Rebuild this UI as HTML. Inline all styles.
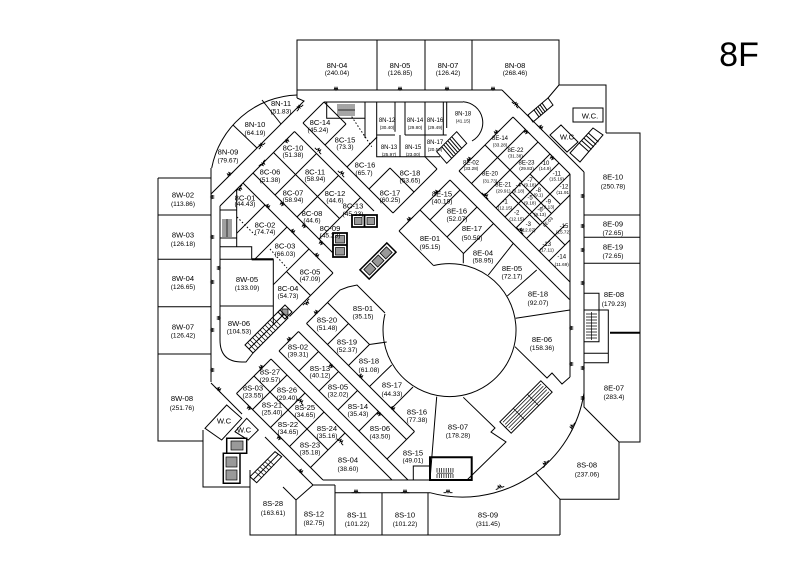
<!DOCTYPE html>
<html>
<head>
<meta charset="utf-8">
<style>
html,body{margin:0;padding:0;background:#fff;}
svg{display:block;}
text{font-family:"Liberation Sans",Arial,sans-serif;fill:#000;text-anchor:middle;}
.n{font-size:7.6px;}
.a{font-size:6.6px;}
.s{font-size:6px;}
.t{font-size:4.6px;}
</style>
</head>
<body>
<svg width="800" height="561" viewBox="0 0 800 561" xmlns="http://www.w3.org/2000/svg">
<defs>
<path id="d" d="M-4.5,0 L-2,0 L-1,-2.6 L0,0 L1,-2.6 L2,0 L4.5,0" fill="none" stroke="#000" stroke-width="0.9"/>
</defs>
<rect width="800" height="561" fill="#fff"/>
<text x="739" y="66" style="font-size:34px">8F</text>

<g fill="none" stroke="#000" stroke-width="1">
<!-- top boxes -->
<path d="M297,98 V40 H559 V85 M297,90 H502 M377,40 V90 M425,40 V90 M472,40 V90 M559,85 L548,98 M559,85 H606 V133"/>
<path d="M528,115 L548,98 L553,105 L533,122 Z M534,109.9 L539,116.9 M536,108.2 L541,115.2 M538,106.5 L543,113.5 M540,104.8 L545,111.8 M542,103.1 L547,110.1"/>
<path d="M573,108 H603 V122 H573 Z"/>
<!-- NE diag -->
<path d="M502,90 L577,165 L584,172 M513,117 L570,174"/>
<path d="M550,135 L561,125 L578,142 L567,152 Z"/>
<path d="M570,153 L593,128 L603,135 L580,162 Z M579.2,143 L589.2,152 M581.5,140.5 L591.5,149.5 M583.8,138 L593.8,147 M586.1,135.5 L596.1,144.5 M588.4,133 L598.4,142"/>
<!-- right boxes -->
<path d="M606,133 H640 V442 H619 V499.3 H560 V535 M584,172 V407 L619,442 M584,215 H640 M584,237.3 H640 M584,263.3 H640"/>
<path d="M610,332.7 H640" stroke-width="2"/>
<path d="M584,293.3 H599 V310 M584,310 H608.3 V362.7 H584 M584,353.3 H608.3 M599,310 V341.7 H584"/>
<path d="M591.5,312 V340 M586,314 H597 M586,317 H597 M586,320 H597 M586,323 H597 M586,326 H597 M586,329 H597 M586,332 H597 M586,335 H597 M586,338 H597" stroke-width="0.7"/>
<path d="M536,473 L560,499.3"/>
<path d="M430,492.7 A123,123 0 0 0 584,393"/>
<!-- bottom -->
<path d="M250,470 V535 H560 M335,492.7 H430 M296,500 V535 M335,485 V535 M382,492.7 V535 M428,492.7 V535 M313,485 H335 M313,485 L296,500 L283,487"/>
<!-- left -->
<path d="M211,168 V382 M158,178 V441 H203 M158,178 H211 M158,215 H211 M158,259.3 H211 M158,306.7 H211 M158,354 H211"/>
<path d="M211.7,168 A90,90 0 0 1 297,95"/>
<path d="M233,125 L257,148 M262,100 L281,124"/>
<path d="M211,194 L304,101 L297,98 M220,206 L294.5,131.5 M303,123 L324,102"/>
<path d="M220,206 V340 Q220,362 242,362 H246 L253,353"/>
<path d="M220,210 H236.7 M220,238 H236.7 M236.7,189.3 V246.7 H251.7 V259.3 M220,246.7 H236.7"/>
<path d="M222,220 H232 M222,222 H232 M222,224 H232 M222,226 H232 M222,228 H232 M222,230 H232 M222,232 H232 M222,234 H232 M222,236 H232 M227,219 V237" stroke-width="0.7"/>
<path d="M220,259.3 H273.3 V325 M220,306 H273.3"/>
<path d="M251.7,259.3 H273.3" stroke-width="2.2"/>
<!-- 8C grid -->
<path d="M243,183 L333,273 M253,173 L332.5,252.5 M273.5,152.5 L339.5,218.5 M294.5,131.5 L374,211 M303,123 L393,213 M324,102 L346,124 M390,168 L414,192 M425,156.7 L437,169"/>
<path d="M236.7,233.3 L265,205 M275,195 L316.5,153.5 M325,145 L346,124 M254.7,259.3 L287,227 M297,217 L338.5,175.5 M347,167 L377,137 M273.3,284.7 L309,249 M319,239 L360.5,197.5 M369,189 L390,168 M289.5,316.5 L333,273 M393,213 L437,169 M286.5,271.5 L310.5,295.5"/>
<path d="M237,217 L255,235 M270,249 L287,268 M351.7,116.7 L371.7,146.7" stroke-dasharray="1.5,2"/>
<path d="M285,305 L292,312 L285,319 L278,312 Z"/>
<rect x="282" y="309" width="6" height="6" fill="#999" stroke-width="0.7"/>
<!-- stair near 8W-06 -->
<path d="M245,345 L280,310 L288,318 L253,353 Z M249,349 L284,314"/>
<path d="M247.5,342.5 L255.5,350.5 M250,340 L258,348 M252.5,337.5 L260.5,345.5 M255,335 L263,343 M257.5,332.5 L265.5,340.5 M260,330 L268,338 M262.5,327.5 L270.5,335.5 M265,325 L273,333 M267.5,322.5 L275.5,330.5 M270,320 L278,328 M272.5,317.5 L280.5,325.5" stroke-width="0.7"/>
<!-- 8N inner block -->
<path d="M324,102 H463 M326.7,101.7 V118.3 H365 V101.7 M365,118.3 V138 M376.7,101.7 V156.7 H440 M395,101.7 V131.7 M405,101.7 V135 M425,101.7 V156.7 M443.3,101.7 V135 M446.7,101.7 V128 M376.7,135 H395 M405,135 H446.7 M400,135 V156.7"/>
<path d="M338,104 V116 M340,104 V116 M342,104 V116 M344,104 V116 M346,104 V116 M348,104 V116 M350,104 V116 M352,104 V116 M354,104 V116 M338,110 H355" stroke-width="0.7"/>
<path d="M463,101.7 A21,21 0 0 1 472,141"/>
<path d="M436.7,151.7 L456.7,131.7 L466.7,143.3 L446.7,163.3 Z M441.7,146.7 L451.7,158.3 M443.7,144.7 L453.7,156.3 M445.7,142.7 L455.7,154.3 M447.7,140.7 L457.7,152.3 M449.7,138.7 L459.7,150.3 M451.7,136.7 L461.7,148.3"/>
<!-- NE-main lower edge -->
<path d="M236.5,393.5 L271,359 M279,351 L298.5,331.5 M306.5,323.5 L327.5,302.5 L340,290 L348,287 L357,285 L385,313 M399,231 L420,210 L450,180 M459,171 L513,117 M399,231 L433.3,265.3"/>
<path d="M433.3,265.6 A66.5,66.5 0 1 1 385,314"/>
<!-- 8E column -->
<path d="M420,210 L463.3,253.3 V263.3 M430,220 L460,190 M447,237 L477,207 M463.5,253.5 L493.5,223.5 M488.3,275 L513.3,243.3 M507.3,296 L536.7,270 M450,180 L569.5,299.5 M515.7,318.3 L570,310 M570,174 V377 M515,346.7 L547,378 L552,373 L562,384 L570,377"/>
<!-- 8E cluster -->
<path d="M459,171 L570,282 M485,145 L522,182 M471.5,183.5 L525.5,129.5 M484,196 L538,142 M496,208 L550,154 M505,217 L559,163 M516,228 L570,174 M526.5,238.5 L570,195 M509.5,194.5 L540,225 M512,192 L542.5,222.5 M521,183 L551.5,213.5 M530,174 L560.5,204.5 M539,251 L565,225 M549,261 L570,240 M542.5,222.5 L565,245"/>
<!-- 8S cluster -->
<path d="M327.5,302.5 L369.5,344.5 L386.7,342 M306.5,323.5 L414.5,431.5 M298.5,331.5 L406.5,439.5 M279,351 L408,480 M271,359 L392,480 M254,376 L328,450 M236.5,393.5 L323,480"/>
<path d="M327.5,344.5 L348.5,323.5 M348.5,365.5 L369.5,344.5 M369.5,386.5 L391.7,365 M391.5,408.5 L413,387 M299,371 L318.5,351.5 M319,391 L338.5,371.5 M338,410 L357.5,390.5 M359,431 L378.5,411.5 M387,459 L414.5,431.5 M252.5,409.5 L287,375 M270.5,427.5 L305,393 M289.5,446.5 L324,412 M310.5,467.5 L345,433 M323,480 H467"/>
<path d="M436.7,396.7 L430,480 M463.3,397.3 L495,428 L491,432 L506,442 L467,480"/>
<path d="M430,457.3 H471.7 V480 H430 Z" stroke-width="2"/>
<path d="M413.3,466 H430 V480 H413.3 Z"/>
<path d="M437,468 V472.5 M439.3,468 V472.5 M441.6,468 V472.5 M443.9,468 V472.5 M446.2,468 V472.5 M448.5,468 V472.5 M450.8,468 V472.5 M453,468 V472.5 M437,474 V478 M439.3,474 V478 M441.6,474 V478 M443.9,474 V478 M446.2,474 V478 M448.5,474 V478 M450.8,474 V478 M453,474 V478 M437,473.2 H453" stroke-width="0.7"/>
<!-- SW -->
<path d="M211,383 L242,414 M265,437 L313,485 M203,430 V487 H250"/>
<path d="M226.7,405 L241.7,418.3 L221.7,440 L205,428.3 Z M235,431.7 L246.7,418.3 L258.3,430 L248.3,440 Z"/>
<path d="M226.7,438.3 H246.7 V453.3 H226.7 Z M223.3,453.3 H240 V483.3 H223.3 Z" stroke-width="1.5"/>
<rect x="231" y="441" width="12" height="9" fill="#999" stroke-width="0.7"/>
<rect x="226" y="457" width="11" height="10" fill="#999" stroke-width="0.7"/>
<rect x="226" y="470" width="11" height="10" fill="#999" stroke-width="0.7"/>
<path d="M250,476.7 L275,451.7 L281.7,456.7 L256.7,482.7 Z M253.4,479.7 L278.4,454.2"/>
<path d="M255,471.7 L261.7,477.7 M257.5,469.2 L264.2,475.2 M260,466.7 L266.7,472.7 M262.5,464.2 L269.2,470.2 M265,461.7 L271.7,467.7 M267.5,459.2 L274.2,465.2" stroke-width="0.7"/>
<!-- plaza elevators -->
<path d="M352,215 H377 V227 H352 Z M364.5,215 V227 M333,233 H347 V257 H333 Z M333,245 H347" stroke-width="1.8"/>
<rect x="354.5" y="217.5" width="7.5" height="7" fill="#999" stroke-width="0.7"/>
<rect x="367" y="217.5" width="7.5" height="7" fill="#999" stroke-width="0.7"/>
<rect x="335.5" y="235.5" width="9" height="7.5" fill="#999" stroke-width="0.7"/>
<rect x="335.5" y="247.5" width="9" height="7.5" fill="#999" stroke-width="0.7"/>
<g transform="translate(378,261) rotate(-45)">
<rect x="-19" y="-6.5" width="38" height="13" stroke-width="1.5"/>
<rect x="-16" y="-4" width="9" height="8" fill="#999" stroke-width="0.8"/>
<rect x="-4.5" y="-4" width="9" height="8" fill="#999" stroke-width="0.8"/>
<rect x="7" y="-4" width="9" height="8" fill="#999" stroke-width="0.8"/>
</g>
<g transform="translate(526,407) rotate(-45)">
<rect x="-29" y="-8" width="58" height="16"/>
<path d="M-29,0 H29 M-27,-5.5 H27 M-27,-2.5 H27 M-27,2.5 H27 M-27,5.5 H27 M-10,-8 V8 M10,-8 V8" stroke-width="0.7"/>
</g>
</g>

<!-- door symbols -->
<g>
<use href="#d" transform="translate(336,90)"/>
<use href="#d" transform="translate(400,90)"/>
<use href="#d" transform="translate(447,90)"/>
<use href="#d" transform="translate(493,90)"/>
<use href="#d" transform="translate(211,197) rotate(90)"/>
<use href="#d" transform="translate(211,237) rotate(90)"/>
<use href="#d" transform="translate(211,282) rotate(90)"/>
<use href="#d" transform="translate(211,330) rotate(90)"/>
<use href="#d" transform="translate(211,370) rotate(90)"/>
<use href="#d" transform="translate(220,268) rotate(-90)"/>
<use href="#d" transform="translate(220,318) rotate(-90)"/>
<use href="#d" transform="translate(584,196) rotate(-90)"/>
<use href="#d" transform="translate(584,226) rotate(-90)"/>
<use href="#d" transform="translate(584,250) rotate(-90)"/>
<use href="#d" transform="translate(584,283) rotate(-90)"/>
<use href="#d" transform="translate(584,368) rotate(-90)"/>
<use href="#d" transform="translate(584,398) rotate(-90)"/>
<use href="#d" transform="translate(570,328) rotate(90)"/>
<use href="#d" transform="translate(570,364) rotate(90)"/>
<use href="#d" transform="translate(300,108) rotate(-45)"/>
<use href="#d" transform="translate(262,146) rotate(-45)"/>
<use href="#d" transform="translate(230,175) rotate(-45)"/>
<use href="#d" transform="translate(286,140) rotate(135)"/>
<use href="#d" transform="translate(262,163) rotate(135)"/>
<use href="#d" transform="translate(239,188) rotate(135)"/>
<use href="#d" transform="translate(267,207) rotate(45)"/>
<use href="#d" transform="translate(292,232) rotate(45)"/>
<use href="#d" transform="translate(316,256) rotate(45)"/>
<use href="#d" transform="translate(283,203) rotate(225)"/>
<use href="#d" transform="translate(305,225) rotate(225)"/>
<use href="#d" transform="translate(322,242) rotate(225)"/>
<use href="#d" transform="translate(318,151) rotate(45)"/>
<use href="#d" transform="translate(341,174) rotate(45)"/>
<use href="#d" transform="translate(317,313) rotate(-45)"/>
<use href="#d" transform="translate(290,340) rotate(-45)"/>
<use href="#d" transform="translate(262,368) rotate(-45)"/>
<use href="#d" transform="translate(306,302) rotate(135)"/>
<use href="#d" transform="translate(410,220) rotate(-45)"/>
<use href="#d" transform="translate(437,193) rotate(-45)"/>
<use href="#d" transform="translate(470,160) rotate(-45)"/>
<use href="#d" transform="translate(497,133) rotate(-45)"/>
<use href="#d" transform="translate(515,105) rotate(45)"/>
<use href="#d" transform="translate(540,128) rotate(45)"/>
<use href="#d" transform="translate(527,131) rotate(225)"/>
<use href="#d" transform="translate(553,157) rotate(225)"/>
<use href="#d" transform="translate(485,196) rotate(45)"/>
<use href="#d" transform="translate(520,231) rotate(45)"/>
<use href="#d" transform="translate(218,390) rotate(45)"/>
<use href="#d" transform="translate(250,407) rotate(225)"/>
<use href="#d" transform="translate(280,437) rotate(225)"/>
<use href="#d" transform="translate(300,472) rotate(45)"/>
<use href="#d" transform="translate(360,377) rotate(45)"/>
<use href="#d" transform="translate(392,409) rotate(45)"/>
<use href="#d" transform="translate(332,365) rotate(225)"/>
<use href="#d" transform="translate(380,413) rotate(225)"/>
<use href="#d" transform="translate(300,402) rotate(45)"/>
<use href="#d" transform="translate(340,442) rotate(45)"/>
<use href="#d" transform="translate(356,492.7)"/>
<use href="#d" transform="translate(405,492.7)"/>
<use href="#d" transform="translate(448,492.7)"/>
<use href="#d" transform="translate(546,464) rotate(-55)"/>
<use href="#d" transform="translate(573,427) rotate(-70)"/>
<use href="#d" transform="translate(500,488) rotate(-20)"/>
</g>

<!-- labels -->
<g>
<text class="n" x="337" y="68">8N-04</text><text class="a" x="337" y="75">(240.04)</text>
<text class="n" x="400" y="68">8N-05</text><text class="a" x="400" y="75">(126.85)</text>
<text class="n" x="448" y="68">8N-07</text><text class="a" x="448" y="75">(126.42)</text>
<text class="n" x="515" y="68">8N-08</text><text class="a" x="515" y="75">(268.46)</text>
<text class="n" x="281" y="106">8N-11</text><text class="a" x="281" y="113.5">(51.83)</text>
<text class="n" x="255" y="127">8N-10</text><text class="a" x="255" y="134.8">(64.19)</text>
<text class="n" x="228" y="154.5">8N-09</text><text class="a" x="228" y="162.5">(79.67)</text>
<text class="s" x="387" y="122">8N-12</text><text class="t" x="387" y="129">(30.40)</text>
<text class="s" x="415" y="122">8N-14</text><text class="t" x="415" y="129">(29.80)</text>
<text class="s" x="435" y="122">8N-16</text><text class="t" x="435" y="129">(29.49)</text>
<text class="s" x="389" y="149">8N-13</text><text class="t" x="389" y="156">(25.97)</text>
<text class="s" x="413" y="149">8N-15</text><text class="t" x="413" y="156">(23.00)</text>
<text class="s" x="435" y="144">8N-17</text><text class="t" x="435" y="151">(20.50)</text>
<text class="s" x="463" y="115.5">8N-18</text><text class="t" x="463" y="122.5">(41.15)</text>

<text class="n" x="320" y="125">8C-14</text><text class="a" x="318" y="131.8">(45.24)</text>
<text class="n" x="345" y="142.7">8C-15</text><text class="a" x="345" y="149.2">(73.3)</text>
<text class="n" x="293" y="150.4">8C-10</text><text class="a" x="293" y="156.8">(51.38)</text>
<text class="n" x="365" y="167.7">8C-16</text><text class="a" x="364" y="174.8">(65.7)</text>
<text class="n" x="270" y="174.4">8C-06</text><text class="a" x="270" y="181.8">(51.38)</text>
<text class="n" x="315" y="174.4">8C-11</text><text class="a" x="315" y="180.8">(58.94)</text>
<text class="n" x="410" y="175.4">8C-18</text><text class="a" x="410" y="182.5">(53.65)</text>
<text class="n" x="390" y="195.4">8C-17</text><text class="a" x="390" y="201.8">(60.25)</text>
<text class="n" x="335" y="196">8C-12</text><text class="a" x="335" y="202.5">(44.6)</text>
<text class="n" x="293" y="195.4">8C-07</text><text class="a" x="293" y="201.8">(58.94)</text>
<text class="n" x="245" y="200.4">8C-01</text><text class="a" x="245" y="205.8">(44.43)</text>
<text class="n" x="353" y="208.7">8C-13</text><text class="a" x="353" y="215.8">(45.23)</text>
<text class="n" x="312" y="216">8C-08</text><text class="a" x="312" y="222.5">(44.6)</text>
<text class="n" x="265" y="227.7">8C-02</text><text class="a" x="265" y="234.2">(74.74)</text>
<text class="n" x="330" y="231">8C-09</text><text class="a" x="330" y="237.5">(45.23)</text>
<text class="n" x="285" y="248.7">8C-03</text><text class="a" x="285" y="255.8">(66.03)</text>
<text class="n" x="310" y="274.4">8C-05</text><text class="a" x="310" y="280.8">(47.09)</text>
<text class="n" x="288" y="291">8C-04</text><text class="a" x="288" y="298.2">(54.73)</text>

<text class="n" x="183" y="197.7">8W-02</text><text class="a" x="183" y="205.8">(113.86)</text>
<text class="n" x="183" y="237.7">8W-03</text><text class="a" x="183" y="245.8">(126.18)</text>
<text class="n" x="183" y="281">8W-04</text><text class="a" x="183" y="289.2">(126.65)</text>
<text class="n" x="183" y="329.4">8W-07</text><text class="a" x="183" y="337.5">(126.42)</text>
<text class="n" x="182" y="401">8W-08</text><text class="a" x="182" y="409.8">(251.76)</text>
<text class="n" x="247" y="282">8W-05</text><text class="a" x="247" y="290.2">(133.09)</text>
<text class="n" x="239" y="326">8W-06</text><text class="a" x="239" y="333.5">(104.53)</text>
<text class="n" x="224" y="423.4">W.C</text>
<text class="n" x="244" y="432.7">W.C</text>
<text class="n" x="590" y="118.7">W.C.</text>
<text class="n" x="567" y="139.4">W.C</text>

<text class="s" x="500" y="140">8E-14</text><text class="t" x="500" y="146.6">(33.28)</text>
<text class="s" x="515.5" y="151.8">8E-22</text><text class="t" x="515.5" y="157.6">(31.38)</text>
<text class="s" x="526.5" y="164.3">8E-23</text><text class="t" x="526.5" y="170">(29.83)</text>
<text class="s" x="471" y="164.3">8E-02</text><text class="t" x="471" y="170">(33.28)</text>
<text class="s" x="490" y="175.6">8E-20</text><text class="t" x="490" y="182.3">(31.73)</text>
<text class="s" x="503.3" y="186.3">8E-21</text><text class="t" x="503.3" y="192.6">(29.91)</text>
<text class="s" x="545" y="165">-10</text><text class="t" x="545" y="170">(14.9)</text>
<text class="s" x="556.7" y="175.3">-11</text><text class="t" x="556.7" y="180.6">(15.19)</text>
<text class="s" x="564" y="188.7">-12</text><text class="t" x="563.5" y="194">(11.91)</text>
<text class="s" x="530" y="182">-7</text><text class="t" x="530" y="186.6">(9.18)</text>
<text class="s" x="518.3" y="187">-4</text><text class="t" x="518.3" y="192.6">(9.18)</text>
<text class="s" x="538.3" y="192">-8</text><text class="t" x="538.3" y="196.6">(9.1)</text>
<text class="s" x="530" y="199.3">-5</text><text class="t" x="530" y="204.3">(9.18)</text>
<text class="s" x="548.3" y="203.7">-9</text><text class="t" x="548.3" y="208.3">(9.13)</text>
<text class="s" x="540" y="211.3">-6</text><text class="t" x="540" y="216">(9.13)</text>
<text class="s" x="505" y="203.7">-1</text><text class="t" x="505" y="209.3">(12.15)</text>
<text class="s" x="516.7" y="214.7">-2</text><text class="t" x="516.7" y="220.6">(12.15)</text>
<text class="s" x="528.3" y="226">-3</text><text class="t" x="528.3" y="231.6">(12.07)</text>
<text class="s" x="564" y="228">-15</text><text class="t" x="563.3" y="233.3">(15.72)</text>
<text class="s" x="546.7" y="246">-13</text><text class="t" x="546.7" y="251.6">(17.11)</text>
<text class="s" x="561.7" y="258.7">-14</text><text class="t" x="561.7" y="266">(11.69)</text>
<text class="t" x="0" y="0" transform="translate(549,223) rotate(-45)">8E-03</text>

<text class="n" x="613" y="179.4">8E-10</text><text class="a" x="613" y="188.5">(250.78)</text>
<text class="n" x="613" y="226.7">8E-09</text><text class="a" x="613" y="234.8">(72.65)</text>
<text class="n" x="613" y="249.4">8E-19</text><text class="a" x="613" y="258.2">(72.65)</text>
<text class="n" x="614" y="297">8E-08</text><text class="a" x="614" y="305.8">(179.23)</text>
<text class="n" x="614" y="390.4">8E-07</text><text class="a" x="614" y="399.2">(283.4)</text>
<text class="n" x="538" y="296.7">8E-18</text><text class="a" x="538" y="305.2">(92.07)</text>
<text class="n" x="542" y="342">8E-06</text><text class="a" x="542" y="349.8">(158.36)</text>
<text class="n" x="442" y="196.7">8E-15</text><text class="a" x="442" y="203.5">(40.19)</text>
<text class="n" x="457" y="213.4">8E-16</text><text class="a" x="457" y="220.8">(52.07)</text>
<text class="n" x="472" y="231">8E-17</text><text class="a" x="472" y="239.8">(50.50)</text>
<text class="n" x="430" y="241">8E-01</text><text class="a" x="430" y="249.2">(95.15)</text>
<text class="n" x="483" y="255.4">8E-04</text><text class="a" x="483" y="262.5">(58.95)</text>
<text class="n" x="512" y="271">8E-05</text><text class="a" x="512" y="278.5">(72.17)</text>
<text class="n" x="587" y="467.7">8S-08</text><text class="a" x="587" y="476.5">(237.06)</text>

<text class="n" x="363" y="311">8S-01</text><text class="a" x="363" y="318.5">(35.15)</text>
<text class="n" x="327" y="322.7">8S-20</text><text class="a" x="327" y="329.8">(51.48)</text>
<text class="n" x="347" y="344.4">8S-19</text><text class="a" x="347" y="351.8">(52.37)</text>
<text class="n" x="298" y="349.4">8S-02</text><text class="a" x="298" y="356.5">(39.31)</text>
<text class="n" x="369" y="363.7">8S-18</text><text class="a" x="369" y="371.8">(61.08)</text>
<text class="n" x="320" y="371">8S-13</text><text class="a" x="320" y="377.5">(40.12)</text>
<text class="n" x="270" y="374.4">8S-27</text><text class="a" x="270" y="381.8">(29.57)</text>
<text class="n" x="253" y="390.4">8S-03</text><text class="a" x="253" y="397.5">(23.55)</text>
<text class="n" x="287" y="392.7">8S-26</text><text class="a" x="287" y="399.8">(29.40)</text>
<text class="n" x="392" y="387.7">8S-17</text><text class="a" x="392" y="395.8">(44.33)</text>
<text class="n" x="338" y="389.7">8S-05</text><text class="a" x="338" y="396.5">(32.02)</text>
<text class="n" x="272" y="407.7">8S-21</text><text class="a" x="272" y="414.5">(25.40)</text>
<text class="n" x="305" y="410">8S-25</text><text class="a" x="305" y="416.8">(34.65)</text>
<text class="n" x="358" y="409">8S-14</text><text class="a" x="358" y="415.8">(35.43)</text>
<text class="n" x="417" y="414.4">8S-16</text><text class="a" x="417" y="421.8">(77.38)</text>
<text class="n" x="288" y="427">8S-22</text><text class="a" x="288" y="433.8">(34.65)</text>
<text class="n" x="327" y="431">8S-24</text><text class="a" x="327" y="437.8">(35.16)</text>
<text class="n" x="380" y="431">8S-06</text><text class="a" x="380" y="438.5">(43.50)</text>
<text class="n" x="458" y="429.4">8S-07</text><text class="a" x="458" y="437.5">(178.28)</text>
<text class="n" x="310" y="447.7">8S-23</text><text class="a" x="310" y="454.5">(35.18)</text>
<text class="n" x="413" y="455.4">8S-15</text><text class="a" x="413" y="462.5">(49.01)</text>
<text class="n" x="348" y="462.7">8S-04</text><text class="a" x="348" y="470.8">(38.60)</text>
<text class="n" x="273" y="506">8S-28</text><text class="a" x="273" y="514.8">(163.61)</text>
<text class="n" x="314" y="516.7">8S-12</text><text class="a" x="314" y="525.2">(82.75)</text>
<text class="n" x="357" y="517.7">8S-11</text><text class="a" x="357" y="525.8">(101.22)</text>
<text class="n" x="405" y="517.7">8S-10</text><text class="a" x="405" y="525.8">(101.22)</text>
<text class="n" x="488" y="517.7">8S-09</text><text class="a" x="488" y="525.8">(311.45)</text>
</g>
</svg>
</body>
</html>
